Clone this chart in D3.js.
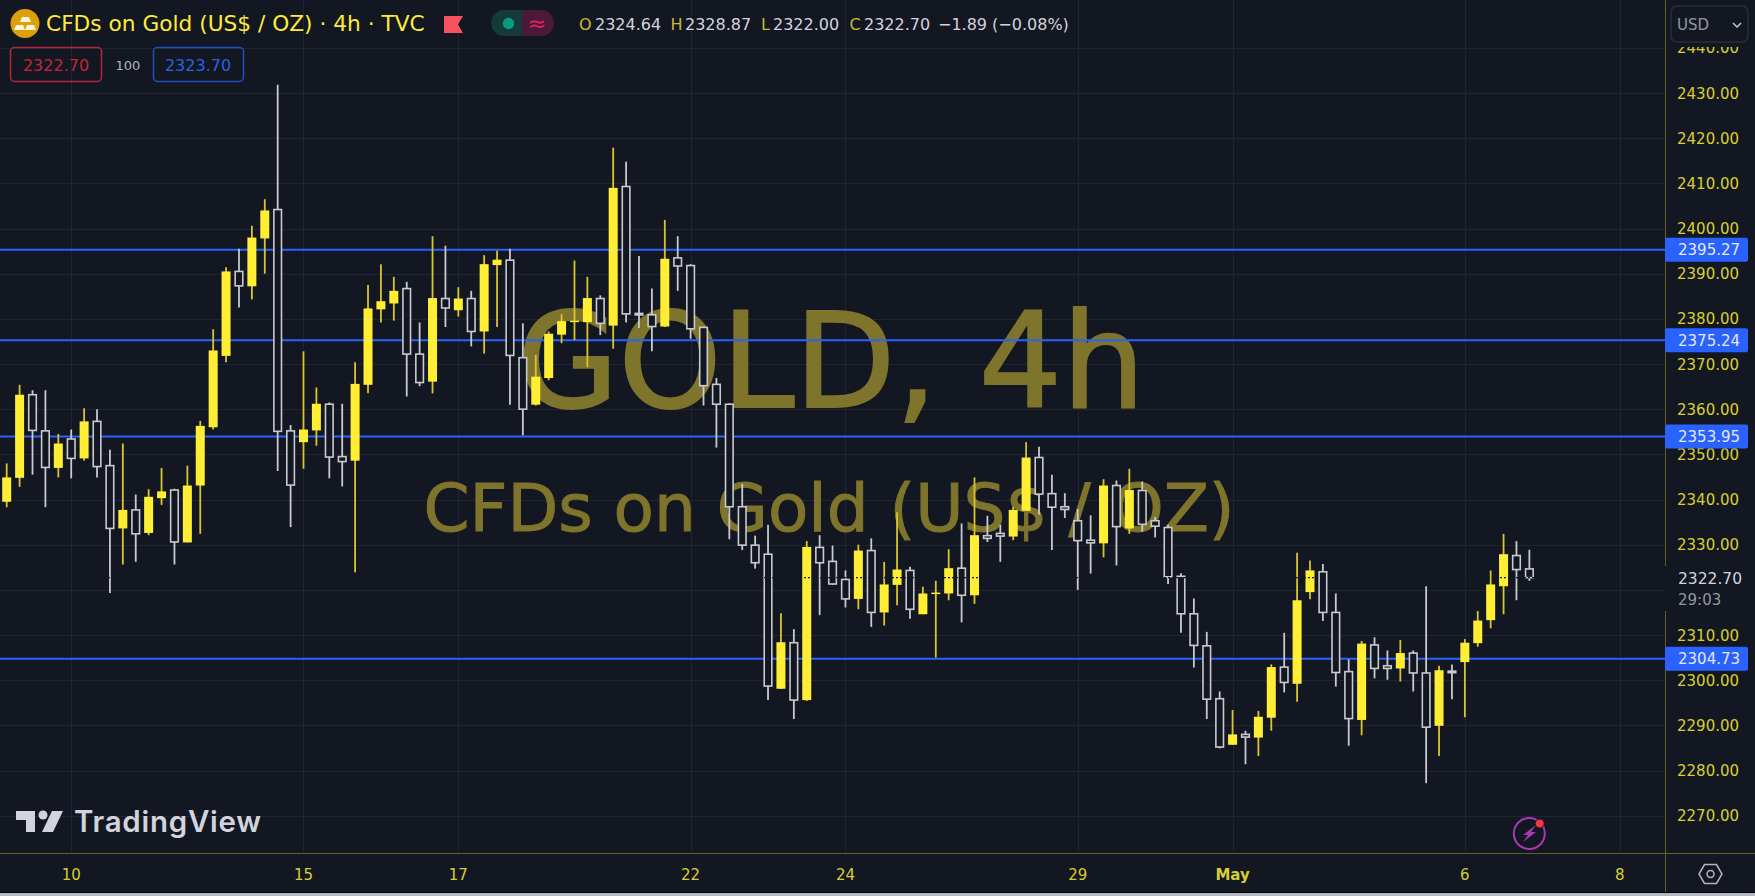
<!DOCTYPE html>
<html>
<head>
<meta charset="utf-8">
<title>GOLD 4h</title>
<script src="https://cdnjs.cloudflare.com/ajax/libs/d3/7.9.0/d3.min.js"></script>
<style>
    html, body { margin: 0; padding: 0; background: #131722; overflow: hidden; }
    svg { display: block; font-family: "DejaVu Sans", sans-serif; }
</style>
</head>
<body>
<div id="chart"></div>
<script>
// 4h candles
const opens = [
    2339.5,2344.8,2363.2,2355.2,2347.0,2353.4,2349.1,2357.3,2347.5,2333.6,
    2337.7,2332.6,2340.3,2342.1,2330.5,2343.1,2356.0,2371.8,2390.5,2387.2,
    2397.8,2404.2,2355.2,2352.7,2355.3,2361.1,2349.5,2348.6,2365.4,2382.1,
    2383.4,2386.7,2372.2,2366.1,2384.5,2381.9,2384.5,2377.2,2391.9,2393.0,
    2371.4,2361.0,2366.9,2376.5,2379.3,2379.3,2384.5,2378.5,2409.3,2381.2,
    2380.9,2378.3,2393.5,2391.8,2378.1,2365.5,2361.1,2338.4,2329.9,2327.9,
    2298.1,2308.3,2295.6,2329.4,2326.3,2322.3,2318.0,2328.7,2315.0,2321.1,
    2324.3,2314.6,2319.1,2319.2,2324.8,2318.8,2332.0,2332.5,2331.8,2337.5,
    2349.3,2341.3,2338.4,2335.3,2331.0,2330.3,2343.1,2333.6,2342.0,2335.3,
    2333.8,2323.0,2314.7,2307.6,2295.9,2285.7,2288.0,2287.3,2291.7,2302.9,
    2299.2,2319.5,2324.0,2315.0,2301.9,2291.2,2307.8,2303.2,2302.6,2306.0,
    2301.6,2289.9,2302.0,2304.0,2308.2,2313.3,2320.8,2327.6,2324.64
];
const highs = [
    2348.0,2365.4,2364.2,2364.2,2354.5,2355.5,2360.2,2360.0,2351.0,2352.4,
    2341.1,2342.3,2347.0,2342.4,2347.5,2357.4,2377.7,2391.4,2395.5,2400.6,
    2406.5,2431.8,2356.5,2372.8,2364.8,2361.5,2361.2,2370.4,2387.5,2392.1,
    2389.3,2388.2,2379.2,2398.3,2396.2,2387.0,2386.2,2394.1,2395.1,2395.5,
    2379.0,2372.0,2377.2,2381.0,2392.9,2389.3,2385.2,2417.9,2414.8,2393.9,
    2386.7,2401.9,2398.3,2392.1,2378.3,2366.9,2361.3,2343.5,2332.0,2334.4,
    2314.8,2311.3,2330.8,2332.1,2329.8,2324.3,2330.0,2331.4,2326.2,2337.2,
    2325.1,2320.7,2322.0,2329.0,2334.7,2344.9,2336.4,2334.4,2338.4,2352.7,
    2351.7,2345.5,2341.4,2337.9,2336.5,2344.5,2344.2,2346.8,2344.0,2336.1,
    2334.4,2323.7,2318.1,2310.7,2297.5,2293.4,2288.8,2293.2,2303.5,2310.5,
    2328.2,2326.5,2325.7,2319.2,2304.6,2308.7,2309.5,2306.6,2308.9,2306.6,
    2320.8,2303.2,2303.5,2309.1,2315.3,2324.3,2332.4,2330.8,2328.87
];
const lows = [
    2338.3,2342.8,2345.5,2338.3,2344.9,2344.7,2348.6,2344.9,2319.3,2325.6,
    2326.2,2332.1,2338.8,2325.6,2330.5,2332.4,2355.5,2370.4,2382.5,2384.3,
    2390.0,2346.3,2333.9,2346.8,2351.9,2344.7,2342.9,2323.9,2363.5,2379.2,
    2379.6,2362.8,2365.1,2363.5,2378.2,2380.5,2373.9,2372.3,2378.2,2361.0,
    2354.2,2360.8,2366.4,2374.6,2375.3,2369.3,2376.4,2373.4,2379.2,2378.0,
    2372.8,2378.2,2386.2,2375.6,2360.8,2351.5,2331.2,2328.8,2324.7,2295.6,
    2298.1,2291.4,2295.4,2314.4,2321.1,2316.1,2315.7,2311.8,2312.1,2316.6,
    2313.6,2314.6,2305.0,2317.7,2312.8,2316.9,2330.6,2326.2,2331.0,2337.5,
    2336.7,2328.8,2335.9,2320.0,2323.6,2327.2,2325.4,2332.4,2332.9,2331.6,
    2321.3,2310.5,2302.8,2291.4,2284.9,2285.7,2281.4,2283.2,2288.8,2297.3,
    2295.2,2317.9,2313.1,2298.6,2285.5,2287.8,2300.4,2300.1,2299.7,2297.5,
    2277.2,2283.2,2295.8,2291.8,2307.4,2311.5,2314.6,2317.7,2322.00
];
const closes = [
    2344.9,2363.2,2355.3,2347.1,2352.4,2349.1,2357.3,2347.3,2333.6,2337.7,
    2332.4,2340.6,2341.8,2330.6,2343.1,2356.3,2373.0,2390.5,2387.3,2398.0,
    2404.0,2355.1,2343.2,2355.5,2361.2,2349.4,2348.4,2365.6,2382.3,2383.9,
    2386.2,2372.2,2365.9,2384.6,2382.4,2384.5,2377.2,2392.1,2393.1,2371.9,
    2360.0,2367.2,2376.7,2379.5,2379.6,2384.6,2379.0,2409.0,2381.1,2380.9,
    2378.3,2393.3,2391.7,2377.8,2365.2,2361.1,2338.4,2329.9,2326.0,2298.7,
    2308.4,2295.6,2329.5,2326.0,2321.3,2318.0,2328.7,2315.0,2321.2,2324.5,
    2315.7,2319.2,2319.4,2324.8,2318.8,2332.1,2331.4,2331.9,2337.7,2349.3,
    2341.2,2338.3,2337.8,2330.9,2330.4,2343.1,2334.0,2342.1,2334.5,2334.1,
    2322.9,2314.7,2307.7,2295.8,2285.2,2288.0,2287.4,2291.9,2302.9,2299.5,
    2317.7,2324.3,2315.0,2301.7,2291.5,2308.1,2302.6,2302.6,2306.0,2301.6,
    2289.6,2302.2,2301.7,2308.3,2313.2,2321.2,2327.9,2324.5,2322.70
];

// horizontal levels drawn on the chart
const levels = [2395.27, 2375.24, 2353.95, 2304.73];
const priceTicks = [2270, 2280, 2290, 2300, 2310, 2320, 2330, 2340, 2350, 2360, 2370, 2380,
    2390, 2400, 2410, 2420, 2430, 2440];
const dateLabels = ["10", "15", "17", "22", "24", "29", "May", "6", "8"];
const dateBars = [5, 23, 35, 53, 65, 83, 95, 113, 125];
const ohlcKeys = ["O", "H", "L", "C"];
const ohlcValues = ["2324.64", "2328.87", "2322.00", "2322.70"];
const lastPrice = 2322.70;

const bg = "#131722";
const W = 1755, H = 896;
const plotRight = 1665, plotBottom = 853;

const x = d3.scaleLinear().domain([0, 125]).range([6.7, 1619.7]);
const y = d3.scaleLinear().domain([2430, 2270]).range([93, 815.7]);

const candles = opens.map((o, i) => ({ i, o, h: highs[i], l: lows[i], c: closes[i] }));

const svg = d3.select("#chart").append("svg").attr("width", W).attr("height", H);
svg.append("rect").attr("width", W).attr("height", H).attr("fill", bg);

const plot = svg.append("g");

// grid
plot.selectAll(".hgrid").data(priceTicks).join("line")
    .attr("x1", 0).attr("x2", plotRight)
    .attr("y1", d => Math.round(y(d)) + 0.5).attr("y2", d => Math.round(y(d)) + 0.5)
    .attr("stroke", "#1f2430");
plot.selectAll(".vgrid").data(dateBars).join("line")
    .attr("x1", d => Math.round(x(d)) + 0.5).attr("x2", d => Math.round(x(d)) + 0.5)
    .attr("y1", 0).attr("y2", plotBottom)
    .attr("stroke", "#1f2430");

// watermark
plot.append("text").attr("x", 831).attr("y", 407).attr("text-anchor", "middle")
    .attr("font-size", 131).attr("fill", "#7f742b")
    .attr("stroke", "#7f742b").attr("stroke-width", 2).text("GOLD, 4h");
plot.append("text").attr("x", 829).attr("y", 531).attr("text-anchor", "middle")
    .attr("font-size", 66).attr("fill", "#7f742b")
    .attr("stroke", "#7f742b").attr("stroke-width", 1).text("CFDs on Gold (US$ / OZ)");

// blue levels
plot.selectAll(".level").data(levels).join("line")
    .attr("x1", 0).attr("x2", plotRight)
    .attr("y1", d => y(d)).attr("y2", d => y(d))
    .attr("stroke", "#2962ff").attr("stroke-width", 2);

// candles
const candle = plot.selectAll(".candle").data(candles).join("g");
candle.append("line")
    .attr("x1", d => x(d.i)).attr("x2", d => x(d.i))
    .attr("y1", d => y(d.h)).attr("y2", d => y(d.l))
    .attr("stroke", d => d.c >= d.o ? "#d8c62c" : "#c9cacd")
    .attr("stroke-width", 1.8);
candle.append("rect")
    .attr("x", d => x(d.i) - (d.c >= d.o ? 4.5 : 3.8))
    .attr("width", d => d.c >= d.o ? 9 : 7.6)
    .attr("y", d => y(Math.max(d.o, d.c)))
    .attr("height", d => Math.max(1.5, Math.abs(y(d.o) - y(d.c))))
    .attr("fill", d => d.c >= d.o ? "#ffee33" : bg)
    .attr("stroke", d => d.c >= d.o ? "none" : "#c9cacd")
    .attr("stroke-width", 1.6);

// dotted last price line sits on top of the candles
plot.append("line")
    .attr("x1", 0).attr("x2", plotRight)
    .attr("y1", y(lastPrice)).attr("y2", y(lastPrice))
    .attr("stroke", bg).attr("stroke-width", 1.2).attr("stroke-dasharray", "2 2");

// price scale
svg.append("rect").attr("x", plotRight).attr("y", 0).attr("width", W - plotRight).attr("height", H).attr("fill", bg);
svg.append("line").attr("x1", plotRight + 0.5).attr("x2", plotRight + 0.5).attr("y1", 0).attr("y2", H)
    .attr("stroke", "#645e26");
svg.append("line").attr("x1", 0).attr("x2", W).attr("y1", plotBottom + 0.5).attr("y2", plotBottom + 0.5)
    .attr("stroke", "#645e26");

svg.selectAll(".ptick").data(priceTicks.filter(d => d !== 2320)).join("text")
    .attr("x", 1677).attr("y", d => y(d) + 5.5)
    .attr("font-size", 15).attr("fill", "#d8cf2f")
    .text(d => d.toFixed(2));

const levelTag = svg.selectAll(".tag").data(levels).join("g");
levelTag.append("rect").attr("x", plotRight).attr("width", 83).attr("height", 24).attr("rx", 2)
    .attr("y", d => y(d) - 12).attr("fill", "#2962ff");
levelTag.append("text").attr("x", 1678).attr("y", d => y(d) + 5.5)
    .attr("font-size", 15).attr("fill", "#e6e8f0").text(d => d.toFixed(2));

// countdown box hides the axis line behind it
svg.append("rect").attr("x", plotRight).attr("y", 566).attr("width", 84).attr("height", 45).attr("fill", bg);
svg.append("text").attr("x", 1678).attr("y", 584).attr("font-size", 15.5).attr("fill", "#d1d4dc").text(lastPrice.toFixed(2));
svg.append("text").attr("x", 1678).attr("y", 605).attr("font-size", 15).attr("fill", "#9598a1").text("29:03");

// USD button, covers the top of the 2440 label
svg.append("rect").attr("x", 1666).attr("y", 0).attr("width", 89).attr("height", 47).attr("fill", bg);
svg.append("rect").attr("x", 1671).attr("y", 6).attr("width", 77).attr("height", 36).attr("rx", 6)
    .attr("fill", bg).attr("stroke", "#2a2e39").attr("stroke-width", 1.5);
svg.append("text").attr("x", 1677).attr("y", 30).attr("font-size", 15).attr("fill", "#9598a1").text("USD");
svg.append("path").attr("d", "M1733 23l4 4 4-4").attr("fill", "none").attr("stroke", "#c4c7d0").attr("stroke-width", 1.5);

// gear
svg.append("path").attr("d", "M1699 874l5.5-9.5h12l5.5 9.5-5.5 9.5h-12z").attr("fill", "none")
    .attr("stroke", "#b2b5be").attr("stroke-width", 1.5);
svg.append("circle").attr("cx", 1710.5).attr("cy", 874).attr("r", 3.5).attr("fill", "none")
    .attr("stroke", "#b2b5be").attr("stroke-width", 1.5);

// time axis
svg.selectAll(".dtick").data(dateLabels).join("text")
    .attr("x", (d, i) => x(dateBars[i])).attr("y", 879.5)
    .attr("text-anchor", "middle").attr("font-size", 15)
    .attr("font-weight", d => d === "May" ? 700 : 400)
    .attr("fill", "#d8cf2f").text(d => d);

svg.append("rect").attr("x", 0).attr("y", 892).attr("width", W).attr("height", 1).attr("fill", "#000");
svg.append("rect").attr("x", 0).attr("y", 893).attr("width", W).attr("height", 3).attr("fill", "#b4b8c6");

// header
svg.append("circle").attr("cx", 25).attr("cy", 23.5).attr("r", 14.5).attr("fill", "#dca00d");
svg.append("path").attr("d", "M22 17h7l2 5h-11zM16 25h7l2 5h-11zM27 25h7l2 5h-11z").attr("fill", "#fff6d5");
svg.append("text").attr("x", 46).attr("y", 31).attr("font-size", 21.7).attr("fill", "#ffeb3b")
    .text("CFDs on Gold (US$ / OZ) · 4h · TVC");
svg.append("path").attr("d", "M444 16h19l-5 8.5 5 8.5h-19z").attr("fill", "#f7525f");

svg.append("path").attr("d", "M522 10h-18a13 13 0 0 0 0 26h18z").attr("fill", "#143a3a");
svg.append("path").attr("d", "M522 10h19a13 13 0 0 1 0 26h-19z").attr("fill", "#4b1a38");
svg.append("circle").attr("cx", 508.5).attr("cy", 23.5).attr("r", 5.7).attr("fill", "#089981");
svg.append("text").attr("x", 537).attr("y", 31).attr("text-anchor", "middle").attr("font-size", 22)
    .attr("fill", "#e91e63").text("≈");

// legend letters and their values
const legend = svg.append("text").attr("y", 30).attr("font-size", 16);
const keyX = [579, 670.5, 761, 849.5], valX = [595, 685, 773, 864];
ohlcKeys.forEach((k, i) => {
    legend.append("tspan").attr("x", keyX[i]).attr("fill", "#c9b93a").text(k);
    legend.append("tspan").attr("x", valX[i]).attr("fill", "#d1d4dc").text(ohlcValues[i]);
});
legend.append("tspan").attr("x", 938).attr("fill", "#d1d4dc").text("−1.89 (−0.08%)");

// bid / ask boxes
svg.append("rect").attr("x", 10.5).attr("y", 47.5).attr("width", 91).attr("height", 34).attr("rx", 4)
    .attr("fill", "none").attr("stroke", "#b5283a").attr("stroke-width", 1.5);
svg.append("text").attr("x", 56).attr("y", 70.5).attr("text-anchor", "middle").attr("font-size", 16)
    .attr("fill", "#c2263a").text("2322.70");
svg.append("text").attr("x", 128).attr("y", 70).attr("text-anchor", "middle").attr("font-size", 13)
    .attr("fill", "#b2b5be").text("100");
svg.append("rect").attr("x", 153.5).attr("y", 47.5).attr("width", 90).attr("height", 34).attr("rx", 4)
    .attr("fill", "none").attr("stroke", "#1f4fc4").attr("stroke-width", 1.5);
svg.append("text").attr("x", 198).attr("y", 70.5).attr("text-anchor", "middle").attr("font-size", 16)
    .attr("fill", "#2a62e0").text("2323.70");

// TradingView logo
svg.append("path").attr("d", "M16 811h19v21h-9v-12h-10z").attr("fill", "#d1d4dc");
svg.append("circle").attr("cx", 43).attr("cy", 815).attr("r", 4.5).attr("fill", "#d1d4dc");
svg.append("path").attr("d", "M52 811h11l-10 21h-11z").attr("fill", "#d1d4dc");
svg.append("text").attr("x", 74).attr("y", 832).attr("font-family", "Inter").attr("font-size", 29.5).attr("font-weight", 600)
    .attr("fill", "#d1d4dc").attr("textLength", 187).text("TradingView");

// bolt badge
svg.append("circle").attr("cx", 1529.3).attr("cy", 833.5).attr("r", 15.5).attr("fill", "none")
    .attr("stroke", "#a33bb5").attr("stroke-width", 2);
svg.append("path").attr("d", "M1536 825l-13 10h5l-5 7 13-10h-5z").attr("fill", "#a33bb5");
svg.append("circle").attr("cx", 1539.7).attr("cy", 823.5).attr("r", 4.5).attr("fill", "#f23645")
    .attr("stroke", bg).attr("stroke-width", 1);
</script>
</body>
</html>
